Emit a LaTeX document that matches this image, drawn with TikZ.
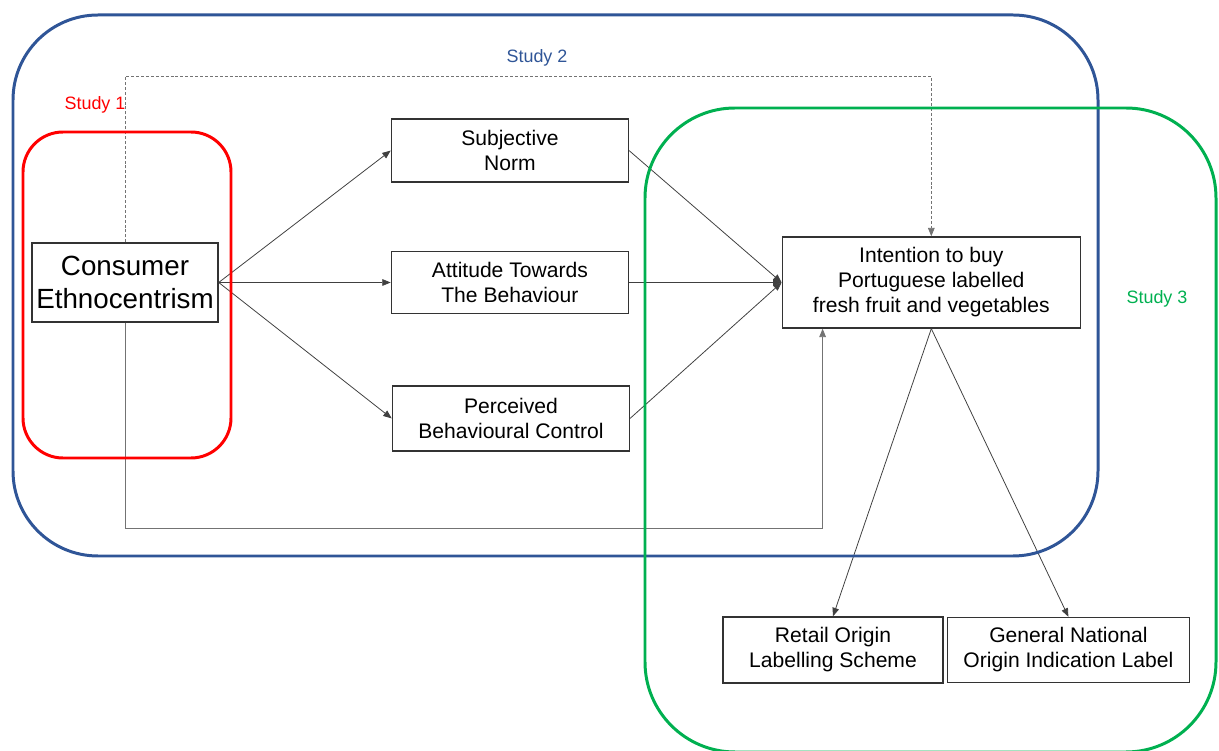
\documentclass[tikz,border=0pt]{standalone}
\usepackage{fontspec}
\setmainfont{Liberation Sans}
\usetikzlibrary{positioning,arrows.meta}

\definecolor{studyred}{HTML}{FF0000}
\definecolor{studyblue}{HTML}{2F5597}
\definecolor{studygreen}{HTML}{00B050}

\begin{document}
\begin{tikzpicture}[
    every node/.style={
        align=center,
        inner sep=0pt
    },
    box/.style={
        draw=black!80,
        line width=0.8pt,
        minimum width=4.74cm,
        minimum height=1.26cm,
        font=\fontsize{12}{14.2}\selectfont
    },
    arrow/.style={-{Triangle[length=4.8pt,width=3.8pt]}, draw=black!75, line width=0.45pt},
    frame/.style={line width=1.7pt, rounded corners=#1},
    studylabel/.style={font=\fontsize{10.2}{12}\selectfont}
]
\useasboundingbox (0,0) rectangle (24.38,-15.02);

% Nodes
\node (ce) [box, minimum width=3.72cm, minimum height=1.58cm,
    font=\fontsize{15.8}{18.7}\selectfont] at (2.5,-5.65) {Consumer\\Ethnocentrism};
\node (atb) [box, minimum height=1.24cm, right=3.44cm of ce] {Attitude Towards\\The Behaviour};
\node (sn) [box, above=1.36cm of atb] {Subjective\\Norm};
\node (pbc) [box, minimum height=1.3cm, below=1.42cm of atb, xshift=0.02cm] {Perceived\\Behavioural Control};
\node (intent) [box, minimum width=5.96cm, minimum height=1.82cm, right=3.05cm of atb]
    {Intention to buy\\Portuguese labelled\\fresh fruit and vegetables};
\node (retail) [box, minimum width=4.4cm, minimum height=1.32cm] at (16.66,-13.0)
    {Retail Origin\\Labelling Scheme};
\node (general) [box, minimum width=4.84cm, minimum height=1.3cm, right=0.06cm of retail]
    {General National\\Origin Indication Label};

% Arrows
\draw[arrow] (ce.east) -- (sn.west);
\draw[arrow] (ce.east) -- (atb.west);
\draw[arrow] (ce.east) -- (pbc.west);
\draw[arrow] (sn.east) -- (intent.west);
\draw[arrow] (atb.east) -- (intent.west);
\draw[arrow] (pbc.east) -- (intent.west);
\draw[arrow, draw=black!55, dash pattern=on 1.7pt off 1.1pt] (ce.north) -- ++(0,3.32) -| (intent.north);
\draw[arrow, draw=black!55] (ce.south) -- ++(0,-4.12) -| ([xshift=0.82cm]intent.south west);
\draw[arrow] (intent.south) -- (retail.north);
\draw[arrow] (intent.south) -- (general.north);

% Study frames
\draw[frame=1.7cm, studyblue] (0.26,-0.3) rectangle (21.96,-11.12);
\draw[frame=0.8cm, studyred] (0.46,-2.64) rectangle (4.62,-9.16);
\draw[frame=1.8cm, studygreen] (12.9,-2.16) rectangle (24.32,-15.04);

\node (s1) [studylabel, text=studyred] at (1.9,-2.1) {Study 1};
\node (s2) [studylabel, text=studyblue] at (10.74,-1.16) {Study 2};
\node (s3) [studylabel, text=studygreen] at (23.14,-5.98) {Study 3};

\end{tikzpicture}
\end{document}
